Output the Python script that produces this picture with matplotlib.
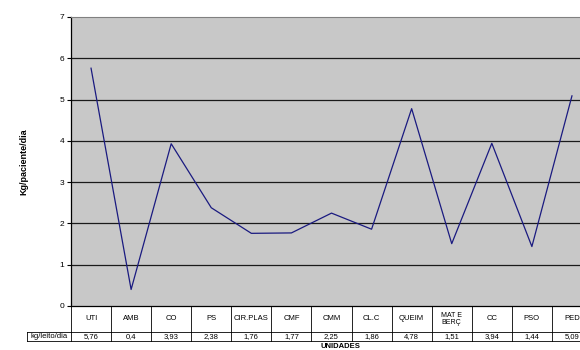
import numpy as np
import matplotlib.pyplot as plt
from matplotlib.transforms import blended_transform_factory

plt.rcParams['font.family'] = ['Liberation Sans', 'DejaVu Sans']

unidades = ['UTI', 'AMB', 'CO', 'PS', 'CIR.PLAS', 'CMF', 'CMM', 'CL.C',
            'QUEIM', 'MAT E\nBERÇ', 'CC', 'PSO', 'PED']
kg_leito = [5.76, 0.4, 3.93, 2.38, 1.76, 1.77, 2.25, 1.86,
            4.78, 1.51, 3.94, 1.44, 5.09]
rotulo_linha = 'kg/leito/dia'

fig = plt.figure(figsize=(5.8, 3.5), dpi=100)
# eixo passa um pouco da borda direita, como no original
ax = fig.add_axes([71 / 580, 44 / 350, 521 / 580, 289 / 350])
ax.set_facecolor('#c8c8c8')

x = np.arange(len(unidades))
ax.plot(x, kg_leito, color='#1a1a80', lw=0.9, zorder=3)

ax.set_xlim(-0.5, len(unidades) - 0.5)
ax.set_ylim(0, 7)
ax.set_yticks(range(0, 8))
ax.tick_params(axis='y', labelsize=6, length=3, width=0.8, pad=2)
ax.set_xticks([])
for yv in range(1, 7):
    ax.axhline(yv, color='#1a1a1a', lw=0.9, zorder=2)

ax.spines['right'].set_visible(False)
ax.spines['top'].set_color('#808080')
ax.spines['left'].set_linewidth(0.9)
ax.spines['bottom'].set_linewidth(0.9)

ax.set_ylabel('Kg/paciente/dia', fontsize=6.5, fontweight='bold', labelpad=22)

# tabela de dados embaixo do grafico
tr = blended_transform_factory(ax.transData, ax.transAxes)
h1 = -26 / 289
h2 = -35 / 289
x_lab = -0.5 - 44 / 40.08
kw = dict(transform=tr, clip_on=False, color='black', lw=0.6)

ax.plot([-0.5, len(unidades) - 0.5], [h1, h1], **kw)
ax.plot([x_lab, len(unidades) - 0.5], [h2, h2], **kw)
ax.plot([x_lab, -0.5], [h1, h1], **kw)
ax.plot([x_lab, x_lab], [h1, h2], **kw)
for i in range(len(unidades) + 1):
    ax.plot([i - 0.5, i - 0.5], [0, h2], **kw)

for i, (u, v) in enumerate(zip(unidades, kg_leito)):
    ax.text(i, h1 / 2, u, transform=tr, ha='center', va='center',
            fontsize=5.5 if '\n' not in u else 5, linespacing=0.95)
    ax.text(i, (h1 + h2) / 2, f'{v:g}'.replace('.', ','), transform=tr,
            ha='center', va='center', fontsize=5.5)
ax.text((x_lab + -0.5) / 2, (h1 + h2) / 2, rotulo_linha, transform=tr,
        ha='center', va='center', fontsize=5.5)

fig.text(340 / 580, 1 - 347 / 350, 'UNIDADES', ha='center', va='center',
         fontsize=5.5, fontweight='bold')

fig.savefig('out.png', dpi=100)
